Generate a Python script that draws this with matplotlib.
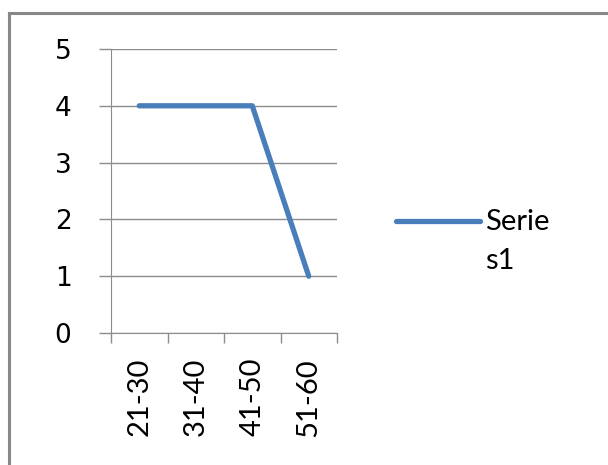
import matplotlib.pyplot as plt
from matplotlib.lines import Line2D

categories = ['21-30', '31-40', '41-50', '51-60']
values = [4, 4, 4, 1]
series_name = 'Serie\ns1'

W, H = 608, 465
fig = plt.figure(figsize=(W / 100, H / 100), dpi=100)
plt.rcParams['font.family'] = ['Lato', 'DejaVu Sans']

# outer chart border (top and left visible)
fig.add_artist(Line2D([9 / W, 1], [1 - 13 / H, 1 - 13 / H], color='#888888', lw=2.2))
fig.add_artist(Line2D([9 / W, 9 / W], [1 - 13 / H, 0], color='#888888', lw=2.2))

ax = fig.add_axes([111 / W, 132 / H, (337 - 111) / W, (333 - 49) / H])
x = list(range(len(categories)))
ax.plot(x, values, color='#4A7EBB', lw=3.8, solid_capstyle='round', solid_joinstyle='round')

ax.set_xlim(-0.5, len(categories) - 0.5)
ax.set_ylim(0, 5)
ax.set_yticks(range(6))
ax.set_yticklabels([str(v) for v in range(6)], fontsize=19, family=['DejaVu Sans'])
ax.yaxis.grid(True, color='#8c8c8c', lw=1)
ax.set_axisbelow(True)

ax.set_xticks([i - 0.5 for i in range(len(categories) + 1)])
ax.set_xticklabels([])
ax.set_xticks(x, minor=True)
ax.set_xticklabels(categories, minor=True, rotation=90, fontsize=21)
ax.tick_params(axis='x', which='minor', length=0, pad=18)
ax.tick_params(axis='x', which='major', length=7, color='#8c8c8c', width=1)
ax.tick_params(axis='y', length=8.5, color='#8c8c8c', width=1, pad=20)

for s in ['top', 'right']:
    ax.spines[s].set_visible(False)
ax.spines['left'].set_color('#8c8c8c')
ax.spines['bottom'].set_color('#8c8c8c')

leg = fig.legend([Line2D([0], [0], color='#4A7EBB', lw=3.8, solid_capstyle='round')],
                 [series_name], loc='upper left', bbox_to_anchor=(396 / W, 1 - 209 / H),
                 frameon=False, fontsize=21, handlelength=2.88, handletextpad=0.17,
                 borderpad=0, borderaxespad=0)
leg.get_texts()[0].set_linespacing(1.6)
# put the legend line level with the first text line
for ln in leg.get_lines():
    ln.set_ydata([y + 15 for y in ln.get_ydata()])

fig.savefig('out.png', dpi=100)
